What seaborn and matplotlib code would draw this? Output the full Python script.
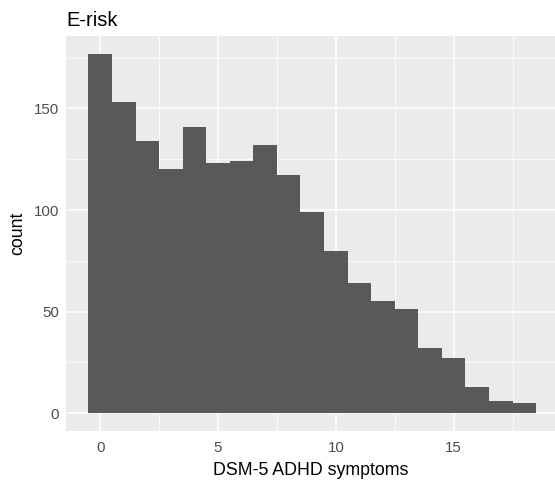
import numpy as np
import pandas as pd
import matplotlib
matplotlib.use("Agg")
import matplotlib.pyplot as plt
import seaborn as sns

symptoms = list(range(19))
counts = [177, 153, 134, 120, 141, 123, 124, 132, 117, 99, 80, 64, 55, 51, 32, 27, 13, 6, 5]
x_ticks = [0, 5, 10, 15]
y_ticks = [0, 50, 100, 150]

df = pd.DataFrame({"symptoms": symptoms, "count": counts})

sns.set_style("white")
plt.rcParams["font.family"] = ["Liberation Sans", "DejaVu Sans"]

W, H = 555, 483
fig = plt.figure(figsize=(W / 100, H / 100), dpi=100)
ax = fig.add_axes([66 / W, 52 / H, 1 - 66 / W, (431 - 35.7) / H])
ax.set_facecolor("#EBEBEB")

sns.histplot(data=df, x="symptoms", weights="count", discrete=True,
             color="#595959", alpha=1, edgecolor="none", linewidth=0,
             ax=ax, zorder=3)

ax.set_xlim(-1.45, (W - 100.5) / 23.55)
ax.set_ylim(-8.85, 185.85)
ax.set_xticks(x_ticks)
ax.set_yticks(y_ticks)
ax.set_xticks([2.5, 7.5, 12.5, 17.5], minor=True)
ax.set_yticks([25, 75, 125, 175], minor=True)
ax.grid(True, which="major", color="white", linewidth=1.1, zorder=1)
ax.grid(True, which="minor", color="white", linewidth=0.55, zorder=1)
ax.set_axisbelow(True)
for s in ax.spines.values():
    s.set_visible(False)
ax.tick_params(axis="both", which="major", length=3, width=0.8, color="#333333",
               labelcolor="#4D4D4D", labelsize=10.8, pad=2)
ax.tick_params(axis="x", which="major", pad=4)
ax.tick_params(axis="both", which="minor", length=0)

ax.set_xlabel("DSM-5 ADHD symptoms", fontsize=12.8, color="black", labelpad=5)
ax.set_ylabel("count", fontsize=12.8, color="black", labelpad=5)
ax.set_title("E-risk", fontsize=14.5, loc="left", color="black", pad=7)

fig.savefig("out.png", dpi=100)
